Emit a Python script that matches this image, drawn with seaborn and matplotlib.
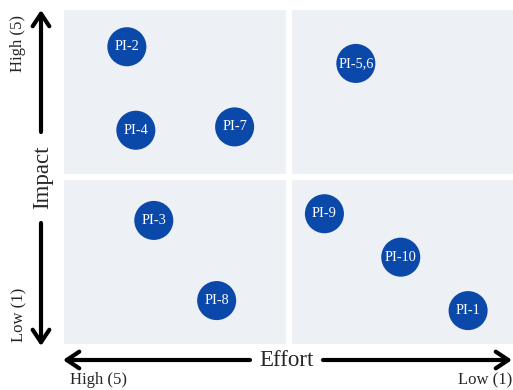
import matplotlib
matplotlib.use("Agg")
import matplotlib.pyplot as plt
import pandas as pd
import seaborn as sns

# Priority items: effort (5 = high, 1 = low) versus impact (5 = high, 1 = low)
items = ["PI-1", "PI-2", "PI-3", "PI-4", "PI-5,6", "PI-7", "PI-8", "PI-9", "PI-10"]
effort = [1.0, 4.8, 4.5, 4.7, 2.25, 3.6, 3.8, 2.6, 1.75]
impact = [1.0, 4.95, 2.35, 3.7, 4.7, 3.75, 1.15, 2.45, 1.8]

df = pd.DataFrame({"item": items, "effort": effort, "impact": impact})

sns.set_theme(style="white")
plt.rcParams["font.family"] = ["Liberation Serif", "DejaVu Serif"]

W, H = 513, 390
fig = plt.figure(figsize=(W / 100, H / 100), dpi=100)
fig.patch.set_facecolor("white")


def fx(px):
    return px / W


def fy(py):
    return 1 - py / H


ax = fig.add_axes([fx(64), fy(344), (513 - 64) / W, (344 - 10) / H])
ax.set_facecolor("#edf0f4")

bubble = "#0a49aa"
sns.scatterplot(data=df, x="effort", y="impact", s=790, color=bubble,
                edgecolor="none", linewidth=0, ax=ax, zorder=3, legend=False)
for name, x, y in zip(df["item"], df["effort"], df["impact"]):
    ax.text(x, y, name, color="white", fontsize=10.3, ha="center",
            va="center", zorder=4)

# Quadrant separators
ax.axvline(3, color="white", lw=4.5, zorder=2)
ax.axhline(3, color="white", lw=4.5, zorder=2)

ax.set_xlim(5.5, 0.5)
ax.set_ylim(0.5, 5.5)
ax.set_xticks([])
ax.set_yticks([])
ax.set_xlabel("")
ax.set_ylabel("")
for sp in ax.spines.values():
    sp.set_visible(False)


def arrow(x0, y0, x1, y1):
    fig.add_artist(matplotlib.patches.FancyArrowPatch(
        (fx(x0), fy(y0)), (fx(x1), fy(y1)), transform=fig.transFigure,
        arrowstyle="->,head_length=0.45,head_width=0.3", lw=3,
        color="black", mutation_scale=20, shrinkA=0, shrinkB=0))


# Impact axis arrows and labels
arrow(41, 132, 41, 10)
arrow(41, 223, 41, 346)
fig.text(fx(43), fy(177), "Impact", rotation=90, fontsize=16.5,
         ha="center", va="center")
fig.text(fx(18), fy(44), "High (5)", rotation=90, fontsize=12,
         ha="center", va="center")
fig.text(fx(19), fy(315), "Low (1)", rotation=90, fontsize=12,
         ha="center", va="center")

# Effort axis arrows and labels
arrow(250, 360, 63, 360)
arrow(323, 360, 512, 360)
fig.text(fx(286), fy(361), "Effort", fontsize=16.5, ha="center", va="center")
fig.text(fx(99), fy(380), "High (5)", fontsize=12, ha="center", va="center")
fig.text(fx(485), fy(380), "Low (1)", fontsize=12, ha="center", va="center")

fig.savefig("out.png", dpi=100)
